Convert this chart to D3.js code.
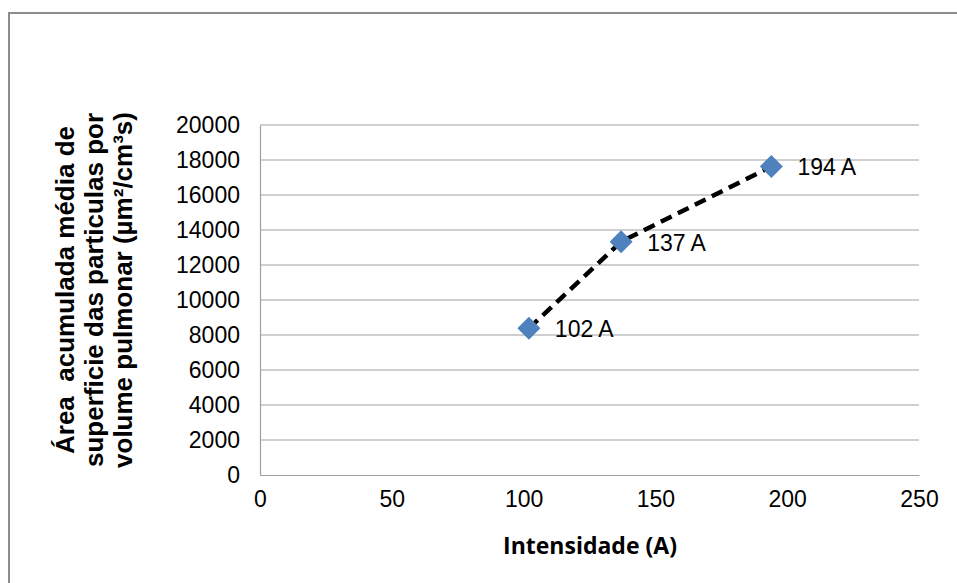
<!DOCTYPE html>
<html>
<head>
<meta charset="utf-8">
<script src="https://cdn.jsdelivr.net/npm/d3@7"></script>
<style>
  body { margin: 0; background: #fff; }
  svg { display: block; }
</style>
</head>
<body>
<div id="chart"></div>
<script>
// Values
const intensities = [102, 137, 194];
const areaValues = [8380, 13330, 17630];
const pointLabels = ["102 A", "137 A", "194 A"];
const xTicks = [0, 50, 100, 150, 200, 250];
const yTicks = [0, 2000, 4000, 6000, 8000, 10000, 12000, 14000, 16000, 18000, 20000];
const yTitleLines = ["Área  acumulada média de", "superficie das particulas por", "volume pulmonar (µm²/cm³s)"];
const xTitle = "Intensidade (A)";

const width = 957, height = 583;
const plot = {left: 260, right: 919, top: 125, bottom: 475};

const svg = d3.select("#chart")
              .append("svg")
              .attr("width", width)
              .attr("height", height);

// Outer chart frame
svg.append("rect")
   .attr("x", 9)
   .attr("y", 13)
   .attr("width", 960)
   .attr("height", 590)
   .attr("fill", "#fff")
   .attr("stroke", "#8c8c8c")
   .attr("stroke-width", 2);

const xScale = d3.scaleLinear()
                 .domain([0, 250])
                 .range([plot.left, plot.right]);
const yScale = d3.scaleLinear()
                 .domain([0, 20000])
                 .range([plot.bottom, plot.top]);

// Horizontal gridlines
svg.append("g")
   .selectAll("line")
   .data(yTicks.slice(1))
   .enter()
   .append("line")
   .attr("x1", plot.left)
   .attr("x2", plot.right)
   .attr("y1", d => yScale(d))
   .attr("y2", d => yScale(d))
   .attr("stroke", "#a0a0a0")
   .attr("stroke-width", 1.2);

// Y axis (no ticks, labels only)
const yAxis = svg.append("g")
   .attr("transform", "translate(" + plot.left + ",0)")
   .call(d3.axisLeft(yScale).tickValues(yTicks).tickSize(0).tickPadding(20).tickFormat(d3.format("d")));
yAxis.select(".domain").attr("stroke", "#a0a0a0").attr("stroke-width", 1.2);
yAxis.selectAll("text")
     .attr("font-family", "Liberation Sans, Arial, sans-serif")
     .attr("font-size", 23)
     .attr("fill", "#000");

// X axis
const xAxis = svg.append("g")
   .attr("transform", "translate(0," + plot.bottom + ")")
   .call(d3.axisBottom(xScale).tickValues(xTicks).tickSize(0).tickPadding(16));
xAxis.select(".domain").attr("stroke", "#a0a0a0").attr("stroke-width", 1.2);
xAxis.selectAll("text")
     .attr("font-family", "Liberation Sans, Arial, sans-serif")
     .attr("font-size", 23)
     .attr("fill", "#000");

// Data series
const points = intensities.map((x, i) => ({x: x, y: areaValues[i], label: pointLabels[i]}));

svg.append("path")
   .datum(points)
   .attr("d", d3.line()
                .x(d => xScale(d.x))
                .y(d => yScale(d.y)))
   .attr("fill", "none")
   .attr("stroke", "#000")
   .attr("stroke-width", 4.5)
   .attr("stroke-dasharray", "12,7");

svg.append("g")
   .selectAll("path")
   .data(points)
   .enter()
   .append("path")
   .attr("d", d3.symbol().type(d3.symbolSquare).size(265))
   .attr("transform", d => "translate(" + xScale(d.x) + "," + yScale(d.y) + ") rotate(45)")
   .attr("fill", "#4f81bd");

svg.append("g")
   .selectAll("text")
   .data(points)
   .enter()
   .append("text")
   .attr("x", d => xScale(d.x) + 26)
   .attr("y", d => yScale(d.y) + 9)
   .attr("font-family", "Liberation Sans, Arial, sans-serif")
   .attr("font-size", 23)
   .text(d => d.label);

// Axis titles
const yTitle = svg.append("text")
   .attr("transform", "translate(74,290) rotate(-90)")
   .attr("text-anchor", "middle")
   .attr("font-family", "Liberation Sans, Arial, sans-serif")
   .attr("font-weight", "bold")
   .attr("font-size", 26)
   .attr("fill", "#000");
yTitle.selectAll("tspan")
      .data(yTitleLines)
      .enter()
      .append("tspan")
      .attr("x", 0)
      .attr("dy", (d, i) => i === 0 ? 0 : 29)
      .attr("xml:space", "preserve")
      .text(d => d);

svg.append("text")
   .attr("x", 590)
   .attr("y", 554)
   .attr("text-anchor", "middle")
   .attr("font-family", "Open Sans, sans-serif")
   .attr("font-weight", "bold")
   .attr("font-size", 23)
   .attr("fill", "#000")
   .text(xTitle);
</script>
</body>
</html>
